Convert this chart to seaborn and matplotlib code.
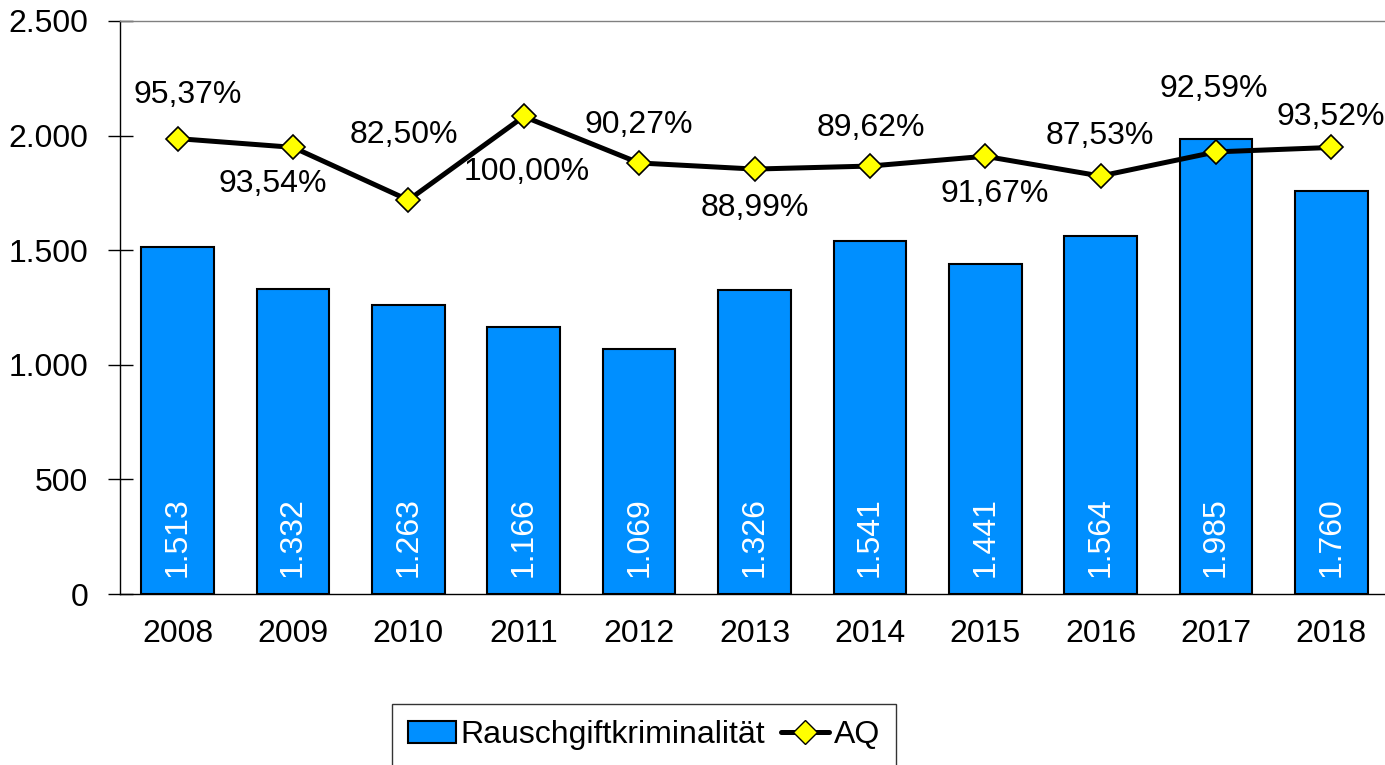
import numpy as np
import pandas as pd
import seaborn as sns
import matplotlib.pyplot as plt
from matplotlib.ticker import FuncFormatter
from matplotlib.lines import Line2D
from matplotlib.patches import Patch

years = ['2008', '2009', '2010', '2011', '2012', '2013', '2014', '2015', '2016', '2017', '2018']
faelle = [1513, 1332, 1263, 1166, 1069, 1326, 1541, 1441, 1564, 1985, 1760]
aq = [95.37, 93.54, 82.50, 100.00, 90.27, 88.99, 89.62, 91.67, 87.53, 92.59, 93.52]

# label offsets (px) for the AQ labels, as placed in the original
lbl_dx = [10, -20, -5, 3, 0, 0, 1, 9, -1, -2, -1]
lbl_dy = [44, -37, 65, -56, 38, -39, 38, -38, 40, 63, 30]

sns.set_style('white')
plt.rcParams['font.family'] = ['Liberation Sans', 'DejaVu Sans']
plt.rcParams['text.color'] = 'black'
plt.rcParams['xtick.labelcolor'] = 'black'
plt.rcParams['ytick.labelcolor'] = 'black'
FS = 23
bar_color = '#008FFF'

df = pd.DataFrame({'year': years, 'faelle': faelle, 'aq': aq})

fig = plt.figure(figsize=(13.85, 7.65), dpi=100)
ax = fig.add_axes([120 / 1385, 1 - 594 / 765, 1269 / 1385, 573 / 765])

sns.barplot(ax=ax, data=df, x='year', y='faelle', color=bar_color,
            saturation=1, width=0.63, edgecolor='black', linewidth=1.5)
ax.set_ylim(0, 2500)
ax.set_xlim(-0.5, len(years) - 0.5)
ax.set_yticks(np.arange(0, 2501, 500))
ax.yaxis.set_major_formatter(FuncFormatter(lambda v, p: f'{int(v):,}'.replace(',', '.')))
ax.set_xticks(np.arange(len(years)))
ax.set_xticklabels(years)
ax.set_xticks(np.arange(len(years) + 1) - 0.5, minor=True)
ax.tick_params(axis='x', which='major', length=0, labelsize=FS, pad=18, labelcolor='black')
ax.tick_params(axis='x', which='minor', direction='inout', length=18, width=1, color='black')
ax.tick_params(axis='y', direction='inout', length=18, width=1, color='black', labelsize=FS,
               pad=14, labelcolor='black')
ax.set_xlabel('')
ax.set_ylabel('')
for s in ['left', 'bottom']:
    ax.spines[s].set_color('black')
    ax.spines[s].set_linewidth(1)
ax.spines['top'].set_color('#808080')
ax.spines['top'].set_linewidth(1)
ax.spines['right'].set_visible(False)

for i, v in enumerate(faelle):
    ax.text(i, 250, f'{v:,}'.replace(',', '.'), rotation=90, ha='center', va='center',
            color='white', fontsize=FS)

ax2 = ax.twinx()
sns.lineplot(ax=ax2, x=np.arange(len(years)), y=aq, color='black', linewidth=3.6,
             marker='D', markersize=12, markerfacecolor='#FFFF00',
             markeredgecolor='black', markeredgewidth=1.2)
ax2.set_ylim(0, 120)
ax2.set_yticks([])
ax2.set_ylabel('')
for s in ax2.spines.values():
    s.set_visible(False)

for i, v in enumerate(aq):
    ax2.annotate(f'{v:.2f}'.replace('.', ',') + '%', (i, v),
                 xytext=(lbl_dx[i] * 0.72, lbl_dy[i] * 0.72), textcoords='offset points',
                 ha='center', va='center', fontsize=FS)

handles = [Patch(facecolor=bar_color, edgecolor='black', linewidth=1.5),
           Line2D([], [], color='black', linewidth=3.6, marker='D', markersize=12,
                  markerfacecolor='#FFFF00', markeredgecolor='black')]
leg = fig.legend(handles, ['Rauschgiftkriminalität', 'AQ'], loc='upper left',
                 bbox_to_anchor=(392 / 1385, 1 - 704 / 765), ncol=2, fontsize=FS,
                 frameon=True, fancybox=False, handlelength=1.5, handletextpad=0.15,
                 columnspacing=0.5, borderpad=0.5, borderaxespad=0)
leg.get_frame().set_edgecolor('black')
leg.get_frame().set_linewidth(1)

fig.savefig('out.png', dpi=100)
